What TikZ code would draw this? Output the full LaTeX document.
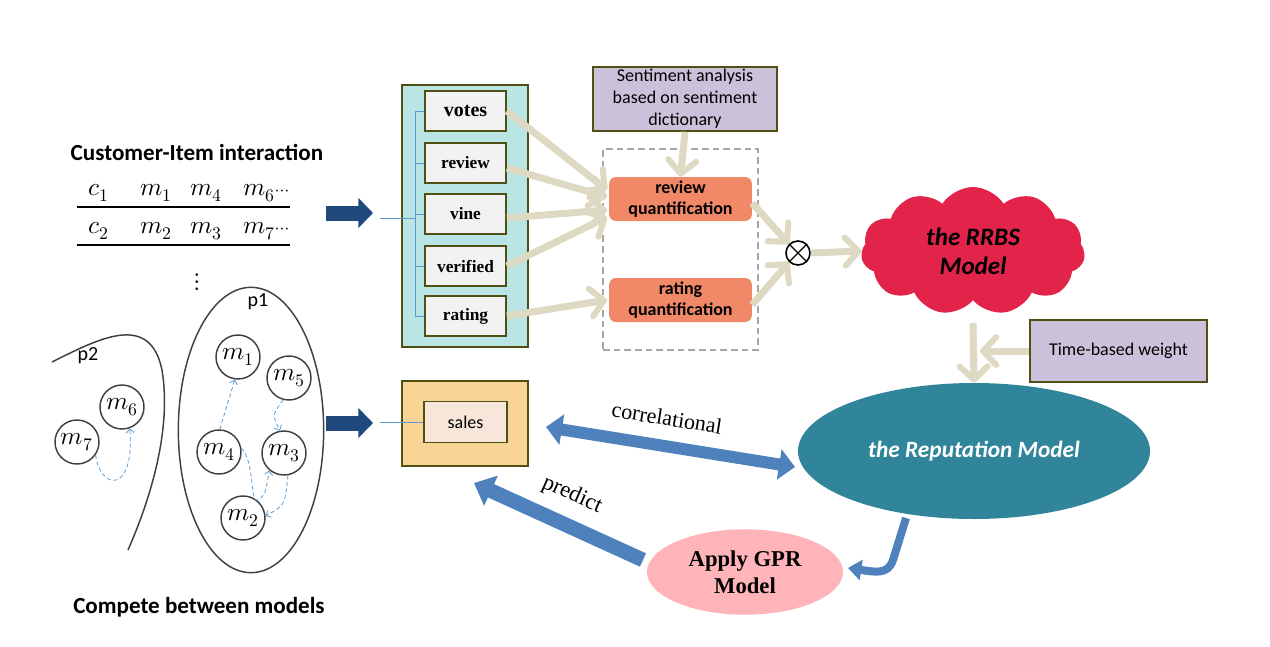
\documentclass[tikz,border=0pt]{standalone}
\usepackage{fontspec}
\usepackage{unicode-math}
\setmainfont{Liberation Serif}
\setmathfont{Latin Modern Math}
\newfontfamily\calib{Carlito}
\usetikzlibrary{arrows.meta,shapes.geometric,shapes.symbols,calc}
\definecolor{navyc}{RGB}{31,73,125}
\definecolor{tealbox}{RGB}{185,230,228}
\definecolor{olivec}{RGB}{80,80,20}
\definecolor{boxgray}{RGB}{242,242,242}
\definecolor{lilac}{RGB}{204,193,218}
\definecolor{orangec}{RGB}{241,137,105}
\definecolor{dashgray}{RGB}{166,166,166}
\definecolor{beigec}{RGB}{221,217,195}
\definecolor{cloudc}{RGB}{226,36,74}
\definecolor{repc}{RGB}{49,133,155}
\definecolor{bluec}{RGB}{79,129,189}
\definecolor{salesout}{RGB}{248,213,151}
\definecolor{salesin}{RGB}{247,230,217}
\definecolor{pinkc}{RGB}{255,180,185}
\definecolor{dashblue}{RGB}{91,155,213}
\definecolor{dgray}{RGB}{64,64,64}
\definecolor{thinblue}{RGB}{91,155,213}
\tikzset{
  mc/.style={circle, draw=dgray, line width=1.1pt, minimum size=33pt, inner sep=0pt, font=\fontsize{19}{22}\selectfont},
  itembox/.style={rectangle, draw=olivec, line width=1.3pt, fill=boxgray, minimum width=60.75pt, minimum height=30pt, inner sep=0pt, font=\bfseries\fontsize{13}{15}\selectfont},
  lilacbox/.style={rectangle, draw=olivec, line width=1.3pt, fill=lilac, inner sep=0pt, font=\calib\fontsize{13.5}{16.5}\selectfont, align=center},
  quantbox/.style={rectangle, rounded corners=5pt, fill=orangec, minimum width=107pt, minimum height=33pt, inner sep=0pt, font=\calib\bfseries\fontsize{13.5}{15.5}\selectfont, align=center},
  beige/.style={draw=beigec, line width=5.25pt, -{Straight Barb[length=10pt,width=21pt,line width=4.5pt,round]}},
  dashar/.style={draw=dashblue, densely dashed, line width=0.6pt, -{Straight Barb[length=3pt,width=6pt,line width=0.6pt]}},
  navyar/.style={draw=navyc, line width=11.25pt, -{Triangle[width=22pt,length=11pt]}},
  thinline/.style={draw=thinblue, line width=0.7pt},
}
\begin{document}
\begin{tikzpicture}[x=0.75pt,y=-0.75pt]
\useasboundingbox (0,0) rectangle (1270,646);

% ---------- left part
\node[font=\calib\bfseries\fontsize{17.3}{20}\selectfont] (title1) at (197,152) {Customer-Item interaction};
\node[font=\calib\bfseries\fontsize{17.3}{20}\selectfont] (title2) at (199,607) {Compete between models};

\begin{scope}[every node/.style={font=\fontsize{19}{22}\selectfont, inner sep=0pt}]
\node (c1) at (99,193) {$c_1$};
\node (r1a) at (156,193) {$m_1$};
\node (r1b) at (206,193) {$m_4$};
\node (r1c) at (266,193) {$m_6{\scriptstyle\cdots}$};
\node (c2) at (99,231) {$c_2$};
\node (r2a) at (156,231) {$m_2$};
\node (r2b) at (206,231) {$m_3$};
\node (r2c) at (266,231) {$m_7{\scriptstyle\cdots}$};
\node (vd) at (197,282) {$\vdots$};
\end{scope}
\draw[line width=1.5pt] (77,207) -- (290,207);
\draw[line width=1.5pt] (77,245) -- (290,245);

% p1
\node[ellipse, draw=dgray, line width=1.1pt, minimum width=109pt, minimum height=214pt, inner sep=0pt] (p1) at (251,430) {};
\node[font=\calib\fontsize{15}{18}\selectfont] (p1l) at (258,302) {p1};
\node[mc] (m1) at (238,357) {$m_1$};
\node[mc] (m5) at (289,378) {$m_5$};
\node[mc] (m4) at (219,452) {$m_4$};
\node[mc] (m3) at (284,453) {$m_3$};
\node[mc] (m2) at (243,518) {$m_2$};
% p2
\draw[dgray, line width=1.1pt] (52,362) .. controls (100,338) and (150,312) .. (162,370) .. controls (172,430) and (150,500) .. (128,550);
\node[font=\calib\fontsize{15}{18}\selectfont] (p2l) at (88,356) {p2};
\node[mc] (m6) at (122,407) {$m_6$};
\node[mc] (m7) at (77,442) {$m_7$};

\draw[dashar] (m4.88) -- (m1.262);
\draw[dashar] (m5.255) .. controls (272,415) .. (m3.100);
\draw[dashar] (m4.10) .. controls (255,462) and (250,505) .. (258,500) .. controls (265,495) .. (m3.230);
\draw[dashar] (m3.280) .. controls (285,505) .. (m2.5);
\draw[dashar] (m7.-35) .. controls (100,490) and (135,495) .. (m6.-70);

% navy arrows
\coordinate (na1s) at (326,213);
\coordinate (na1e) at (373,213);
\draw[navyar] (na1s) -- (na1e);
\coordinate (na2s) at (326,423);
\coordinate (na2e) at (373,423);
\draw[navyar] (na2s) -- (na2e);

% ---------- input box
\node[rectangle, draw=olivec, line width=1.5pt, fill=tealbox, minimum width=94.5pt, minimum height=196.5pt, inner sep=0pt] (inbox) at (465,216) {};
\node[itembox, font=\bfseries\fontsize{15}{15}\selectfont] (votes) at (465.5,111) {votes};
\node[itembox] (review) at (465.5,163) {review};
\node[itembox] (vine) at (465.5,214) {vine};
\node[itembox] (verified) at (465.5,266) {verified};
\node[itembox] (rating) at (465.5,316) {rating};
\coordinate (bt) at (415,111);
\coordinate (bb) at (415,316);
\draw[thinline] (bt) -- (bb);
\foreach \n in {votes,review,vine,verified,rating}{
  \draw[thinline] (\n.west) -- (\n.west -| bt);
}
\coordinate (inl) at (380,218);
\draw[thinline] (inl) -- (inl -| bt);

% sales box
\node[rectangle, draw=olivec, line width=1.5pt, fill=salesout, minimum width=94.5pt, minimum height=63.75pt, inner sep=0pt] (salesbox) at (465,423.5) {};
\node[rectangle, draw=olivec, line width=1.3pt, fill=salesin, minimum width=62.25pt, minimum height=30.75pt, inner sep=0pt, font=\calib\fontsize{13.5}{15}\selectfont] (sales) at (465.5,422) {sales};
\coordinate (sl) at (380,422);
\draw[thinline] (sl) -- (sales.west);

% ---------- middle
\node[lilacbox, minimum width=138pt, minimum height=48pt] (senti) at (685,99) {Sentiment analysis\\based on sentiment\\dictionary};
\node[rectangle, draw=dashgray, dashed, dash pattern=on 5pt off 3pt, line width=1.3pt, minimum width=116.25pt, minimum height=150.75pt, inner sep=0pt] (dbox) at (680.5,249.5) {};
\node[quantbox] (rq) at (680.5,199) {review\\quantification};
\node[quantbox] (tq) at (680.5,300) {rating\\quantification};

\coordinate (a1) at (607,190);
\coordinate (a2) at (607,197);
\coordinate (a3) at (607,210);
\coordinate (a4) at (607,217);
\coordinate (a5) at (607,300);
\draw[beige] (votes.east) -- (a1);
\draw[beige] ($(review.east)+(0,5)$) -- (a2);
\draw[beige] ($(vine.east)+(0,4)$) -- (a3);
\draw[beige] (verified.east) -- (a4);
\draw[beige] (rating.east) -- (a5);
\draw[beige] (senti.south) -- (rq.north);

\node[circle, draw=black, line width=1.2pt, minimum size=18pt, inner sep=0pt] (ot) at (798,253) {};
\draw[line width=0.9pt] (ot.45) -- (ot.225) (ot.135) -- (ot.315);
\draw[beige] ($(rq.east)+(0,4)$) -- (ot.135);
\draw[beige] ($(tq.east)+(0,5)$) -- (ot.225);

% cloud
\node[cloud, cloud puffs=11, cloud puff arc=115, aspect=1.75, fill=cloudc, minimum width=168pt, minimum height=96pt, inner sep=0pt, font=\calib\bfseries\itshape\fontsize{18.8}{22}\selectfont, align=center] (rrbs) at (973,251) {the RRBS\\Model};
\draw[beige] (ot.east) -- (rrbs.west);

% time weight
\node[lilacbox, minimum width=132.75pt, minimum height=46.5pt] (tw) at (1118.5,351) {Time-based weight};

% reputation
\node[ellipse, fill=repc, minimum width=264pt, minimum height=102pt, inner sep=0pt, text=white, font=\calib\bfseries\itshape\fontsize{17.5}{20}\selectfont] (rep) at (974,451) {the Reputation Model};
\coordinate (rt) at (973,323);
\draw[beige] (rt) -- (rep.north);
\coordinate (tt) at (980,351);
\draw[beige] (tw.west) -- (tt);

% GPR
\node[ellipse, fill=pinkc, minimum width=147pt, minimum height=64pt, inner sep=0pt, font=\bfseries\fontsize{17}{20}\selectfont, align=center] (gpr) at (745,572) {Apply GPR\\Model};

% blue arrows
\coordinate (corA) at (546,427);
\coordinate (corB) at (795,467);
\draw[draw=bluec, line width=9pt, {Triangle[width=22.5pt,length=12pt]}-{Triangle[width=22.5pt,length=12pt]}] (corA) -- (corB);
\node[rotate=-9, font=\fontsize{16.5}{18}\selectfont] (corl) at (667,418) {correlational};

\coordinate (prA) at (643,560);
\coordinate (prB) at (474,483);
\draw[draw=bluec, line width=11pt, -{Triangle[width=24pt,length=14pt]}] (prA) -- (prB);
\node[rotate=-24, font=\fontsize{17}{18}\selectfont] (prl) at (572,495) {predict};

\coordinate (hkA) at (906,518);
\coordinate (hkB) at (848,568);
\draw[draw=bluec, line width=6pt, -{Triangle[width=15pt,length=10pt]}] (hkA) -- (893,560) .. controls (888,575) and (875,572) .. (hkB);
\end{tikzpicture}
\end{document}
